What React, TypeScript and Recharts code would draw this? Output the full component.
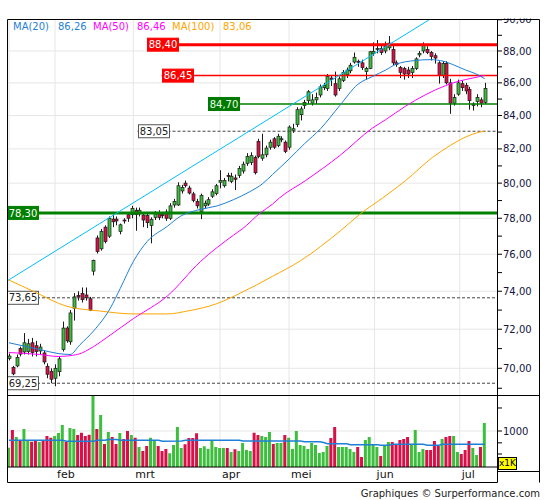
import React from 'react';
import { ComposedChart, Bar, Line, XAxis, YAxis, CartesianGrid, ReferenceLine, Cell } from 'recharts';

// ---------- data ----------
const openP = [70.50,70.05,70.12,71.00,70.83,70.85,71.30,71.15,70.88,70.78,
 70.10,69.85,69.50,69.83,70.95,72.06,71.35,73.10,73.78,73.88,
 73.80,73.60,75.08,76.90,76.30,77.50,77.00,77.95,77.95,77.26,
 77.90,78.20,78.20,78.45,78.25,78.18,78.15,77.60,78.05,78.30,
 78.20,78.35,78.00,78.75,78.75,79.55,80.00,79.72,79.38,78.95,
 78.38,78.70,78.80,79.25,79.40,80.05,79.85,80.45,80.10,80.30,
 80.45,80.70,81.15,81.20,81.50,82.45,81.45,81.65,82.10,82.60,
 82.20,82.55,82.40,82.10,83.10,83.45,84.05,84.60,84.90,84.75,
 84.95,85.25,85.70,85.65,86.30,85.95,85.65,86.15,86.50,86.75,
 87.30,87.35,87.25,86.70,86.90,87.85,88.10,88.15,88.00,88.20,
 88.10,87.25,86.95,86.90,86.80,86.65,86.90,87.75,88.00,88.10,
 87.90,87.70,87.25,86.45,87.20,86.00,84.75,85.30,85.95,85.85,
 85.60,84.60,84.85,84.95,84.80];
const highP = [70.75,70.12,70.70,71.10,71.80,71.50,71.55,71.40,71.25,70.90,
 70.25,70.00,70.20,70.60,72.40,72.15,73.00,73.90,74.00,74.20,
 74.20,73.70,75.70,77.04,77.40,77.60,78.10,78.20,78.10,77.70,
 78.00,78.30,78.70,78.60,78.60,78.30,78.30,78.05,78.40,78.45,
 78.35,78.50,78.85,79.10,80.05,79.90,80.15,79.85,79.50,79.10,
 79.40,79.00,79.20,79.65,79.95,80.75,80.30,80.60,80.60,80.50,
 81.00,81.25,81.75,81.80,81.60,82.60,82.90,82.20,82.55,82.70,
 82.90,82.75,82.50,83.40,83.50,84.50,84.55,84.95,85.55,85.30,
 85.40,85.90,86.00,86.55,86.45,86.70,86.40,86.80,86.95,87.25,
 87.90,87.45,87.45,87.00,88.00,88.55,88.70,88.40,88.60,88.95,
 88.40,87.40,87.05,87.00,87.00,87.05,87.60,88.00,88.55,88.30,
 88.00,87.85,87.35,87.35,87.35,86.25,85.30,86.20,86.15,86.00,
 85.75,84.80,85.30,85.10,86.00];
const lowP = [70.40,69.65,70.05,70.60,70.70,70.70,70.60,70.60,70.70,70.20,
 69.50,69.25,69.10,69.60,70.85,71.30,71.20,72.45,73.50,73.40,
 73.50,72.95,74.85,76.04,76.20,76.60,76.90,77.50,77.60,77.10,
 77.70,77.80,78.00,77.30,78.10,77.50,77.45,76.60,77.90,77.90,
 78.00,77.85,77.90,78.60,78.70,79.40,79.75,79.35,78.90,78.55,
 77.95,78.55,78.70,79.15,79.30,79.70,79.75,80.10,80.00,79.60,
 80.30,80.55,81.00,81.05,80.50,81.45,81.30,81.50,81.95,82.00,
 82.10,82.40,81.75,81.95,82.95,83.30,83.70,84.40,84.70,84.60,
 84.70,85.10,85.55,85.50,85.80,85.15,85.50,86.05,86.30,86.60,
 87.20,87.00,86.80,86.20,86.85,87.70,87.85,87.75,87.85,88.05,
 87.10,87.00,86.30,86.20,86.30,86.30,86.80,87.60,87.85,87.80,
 87.40,87.20,85.95,86.30,85.90,84.10,84.60,85.20,85.50,85.30,
 84.35,84.30,84.55,84.50,84.70];
const closeP = [70.62,69.72,70.55,70.72,71.30,71.25,70.80,70.85,71.08,70.32,
 69.70,69.45,70.00,70.48,72.06,71.40,72.85,73.70,73.70,73.55,
 73.65,73.00,75.67,76.15,77.25,76.70,78.00,77.80,77.85,77.63,
 77.85,78.00,78.55,78.20,78.45,77.90,77.75,77.94,78.25,78.05,
 78.17,78.00,78.70,78.95,79.85,79.75,79.85,79.43,79.00,78.70,
 79.30,78.85,79.05,79.50,79.85,80.15,80.15,80.38,80.40,80.22,
 80.85,81.10,81.55,81.60,80.60,81.55,81.65,82.05,82.40,82.10,
 82.75,82.60,81.85,83.30,83.20,84.35,84.40,84.80,85.45,84.95,
 85.10,85.75,85.85,86.40,86.20,85.25,86.25,86.65,86.80,87.10,
 87.60,87.30,86.95,86.90,87.95,87.97,88.15,87.90,88.30,88.50,
 87.25,87.15,86.65,86.55,86.55,86.90,87.50,87.85,88.35,87.90,
 87.65,87.55,86.45,87.20,86.00,84.75,85.10,86.00,85.70,85.50,
 84.90,84.70,85.10,84.75,85.65];
const volumeK = [605,1030,835,763,1062,763,724,740,718,763,
 860,817,860,942,1198,724,1094,1062,886,950,
 860,895,2900,1062,1620,676,970,835,676,942,
 786,1000,886,817,617,548,637,817,746,637,
 548,582,511,656,1128,600,670,810,810,933,
 600,633,582,740,618,600,600,600,531,575,
 548,697,565,548,950,886,860,835,970,676,
 697,697,886,817,582,1000,656,637,582,697,
 656,516,531,637,810,1128,618,618,618,582,
 531,618,457,763,835,656,618,471,637,718,
 718,676,763,786,835,676,1030,531,582,565,
 565,740,637,786,835,860,860,531,500,565,
 740,600,486,618,1272];

// moving averages: [bar index, value]
const ma20Pts = [[0,71.3],[8.1,70.95],[12.8,70.75],[15.9,70.7],[18.5,71.2],[22,71.9],[26.4,73.1],[29,74.15],[32.4,75.6],[36,76.7],[41.3,77.55],[44.6,78.1],[49.9,78.5],[54.3,78.7],[58.5,79.05],[62.7,79.5],[66,79.95],[68.7,80.5],[73,81.4],[77,82.3],[81.2,83.2],[86.2,84.6],[90.9,85.9],[94.8,86.4],[98.2,86.8],[100.8,87.15],[106,87.4],[109.7,87.45],[113.3,87.35],[115.7,87.14],[119,86.8],[121.7,86.56],[124,86.26]];
const ma50Pts = [[0,70.8],[8,70.7],[12.8,70.6],[17.8,70.7],[22,71.1],[26.4,71.7],[32.4,72.55],[41.3,73.75],[49.9,75.6],[58.5,77.05],[60.8,77.4],[65.5,78.3],[68.7,78.8],[70.5,79.15],[77.3,80.15],[86.2,81.6],[94.8,83.25],[98.2,83.75],[103.4,84.57],[108.6,85.27],[113.8,85.83],[117.2,86.1],[120.9,86.3],[124,86.46]];
const ma100Pts = [[0,74.6],[6.3,74.0],[15.1,73.2],[23.8,72.95],[32.4,72.8],[41.3,72.8],[46.5,72.95],[54.3,73.35],[60.3,73.9],[68.7,74.8],[76,75.65],[86.4,77.3],[91.6,78.25],[97.4,79.15],[103.4,80.15],[110.4,81.5],[115,82.2],[119,82.7],[122.7,83.0],[124,83.06]];
const volMaPts = [[0,755],[14,755],[15,735],[22,735],[23,755],[25,755],[26,775],[28,775],[29,755],[39,755],[40,735],[45,740],[46,755],[60,755],[61,740],[76,740],[77,725],[81,725],[82,705],[83,680],[88,680],[89,660],[96,660],[97,650],[99,650],[100,670],[108,670],[109,650],[112,650],[113,670],[124,670]];
const trendPts = [[-0.52,74.55],[109.5,90.0]];

const levelValues = [88.40, 86.45, 84.70, 83.05, 78.30, 73.65, 69.25];
const levelStartIdx = [36.0, 39.8, 52.0, 33.5, -0.52, -0.52, -0.52];

const monthTicks = [12, 32.4, 55, 73, 95.3, 117.5];
const monthLabels = ['feb', 'mrt', 'apr', 'mei', 'jun', 'jul'];
const gridIdx = [0, ...monthTicks];
const priceTicks = [69,70,71,72,73,74,75,76,77,78,79,80,81,82,83,84,85,86,87,88,89,90];
const priceGrid = [70,72,74,76,78,80,82,84,86,88];
const volTicks = [500, 700, 1000, 2000];
const legendItems = [
  { name: 'MA(20)', value: '86,26', color: '#1f7fd6' },
  { name: 'MA(50)', value: '86,46', color: '#ff00ff' },
  { name: 'MA(100)', value: '83,06', color: '#ffa500' },
];

// ---------- styling ----------
const FONT = '"DejaVu Sans", Verdana, sans-serif';
const GREEN = '#3cbf3c';
const RED = '#d90f48';
const X_DOMAIN: [number, number] = [-0.52, 127.2];
const P_DOMAIN: [number, number] = [68.64, 90.02];
const V_DOMAIN: [number, number] = [338, 2913];

const rows = openP.map((o, i) => ({
  i, o, h: highP[i], l: lowP[i], c: closeP[i], vol: volumeK[i], up: closeP[i] >= o,
}));
const toPts = (a: number[][]) => a.map(([i, v]) => ({ i, v }));

const fmt = (v: number) => v.toFixed(2).replace('.', ',');

const Candle = (props: any) => {
  const { x, y, width, height } = props;
  const d = props.payload || props;
  if (x == null || y == null || !isFinite(height)) return null;
  const lnH = Math.log(d.h), lnL = Math.log(d.l);
  const span = lnH - lnL || 1;
  const at = (v: number) => y + (height * (lnH - Math.log(v))) / span;
  const cx = Math.round(x + width / 2) + 0.5;
  const yo = at(d.o), yc = at(d.c);
  const top = Math.min(yo, yc);
  const bh = Math.max(Math.abs(yc - yo), 1);
  return (
    <g>
      <line x1={cx} x2={cx} y1={y} y2={y + height} stroke="#1a1a1a" strokeWidth={1} />
      <rect x={cx - 1.5} y={top} width={3} height={bh} fill={d.c >= d.o ? GREEN : RED} stroke="#1a1a1a" strokeWidth={0.7} />
    </g>
  );
};

const LEVEL_STYLE = [
  { stroke: '#ff0000', w: 3, dash: undefined, box: '#ff0000', border: '#ff0000', text: '#ffffff' },
  { stroke: '#ff0000', w: 1.5, dash: undefined, box: '#ff0000', border: '#ff0000', text: '#ffffff' },
  { stroke: '#008000', w: 1.5, dash: undefined, box: '#007a00', border: '#007a00', text: '#e8ffe8' },
  { stroke: '#444444', w: 1, dash: '3 2', box: '#ffffff', border: '#555555', text: '#222222' },
  { stroke: '#008000', w: 3, dash: undefined, box: '#008000', border: '#008000', text: '#ffffff' },
  { stroke: '#444444', w: 1, dash: '3 2', box: '#ffffff', border: '#555555', text: '#222222' },
  { stroke: '#444444', w: 1, dash: '3 2', box: '#ffffff', border: '#555555', text: '#222222' },
];

const makeBox = (text: string, st: any) => (props: any) => {
  const vb = props.viewBox || {};
  const bx = Math.round(vb.x ?? 0) + 0.5;
  const by = vb.y ?? 0;
  return (
    <g>
      <rect x={bx} y={by - 6.5} width={31} height={13} fill={st.box} stroke={st.border} strokeWidth={1} />
      <text x={bx + 15.5} y={by + 3.6} textAnchor="middle" fontSize={10} fontFamily={FONT} fill={st.text}>{text}</text>
    </g>
  );
};

const MonthTick = (props: any) => {
  const { x, y, payload } = props;
  const idx = monthTicks.indexOf(payload.value);
  return (
    <text x={x + 2} y={y + 11} fontSize={11} fontFamily={FONT} fill="#111" textAnchor="start">
      {monthLabels[idx]}
    </text>
  );
};

export default function App() {
  return (
    <div style={{ position: 'absolute', left: 0, top: 0, width: 545, height: 500, background: '#fff', overflow: 'hidden' }}>
      {/* price panel */}
      <div style={{ position: 'absolute', left: 0, top: 0 }}>
        <ComposedChart width={545} height={400} data={rows} margin={{ top: 19.5, right: 0, bottom: 4.5, left: 7 }}>
          <CartesianGrid stroke="#e6e6e6" horizontalValues={priceGrid} verticalValues={gridIdx} />
          <XAxis dataKey="i" type="number" domain={X_DOMAIN} allowDataOverflow hide ticks={monthTicks} />
          <YAxis
            orientation="right" width={48} type="number" scale="log" domain={P_DOMAIN} allowDataOverflow
            ticks={priceTicks} interval={0} axisLine={false} tickLine={{ stroke: '#000' }} tickSize={5} tickMargin={1}
            tickFormatter={(v: number) => (v % 2 === 0 ? fmt(v) : '')}
            tick={{ fontSize: 10, fontFamily: FONT, fill: '#14143c' }}
          />
          {levelValues.map((v, k) => (
            <ReferenceLine
              key={'lv' + k}
              segment={[{ x: levelStartIdx[k], y: v }, { x: X_DOMAIN[1], y: v }]}
              stroke={LEVEL_STYLE[k].stroke}
              strokeWidth={LEVEL_STYLE[k].w}
              strokeDasharray={LEVEL_STYLE[k].dash}
              ifOverflow="visible"
              label={makeBox(fmt(v), LEVEL_STYLE[k])}
            />
          ))}
          <ReferenceLine
            segment={[{ x: trendPts[0][0], y: trendPts[0][1] }, { x: trendPts[1][0], y: trendPts[1][1] }]}
            stroke="#00bfff" strokeWidth={1} ifOverflow="visible"
          />
          <Line data={toPts(ma100Pts)} dataKey="v" stroke="#ffa500" strokeWidth={1} dot={false} type="monotone" isAnimationActive={false} />
          <Line data={toPts(ma50Pts)} dataKey="v" stroke="#ff00ff" strokeWidth={1} dot={false} type="monotone" isAnimationActive={false} />
          <Line data={toPts(ma20Pts)} dataKey="v" stroke="#1f7fd6" strokeWidth={1} dot={false} type="monotone" isAnimationActive={false} />
          <Bar dataKey={(d: any) => [d.l, d.h]} barSize={4} shape={(p: any) => <Candle {...p} />} isAnimationActive={false} />
        </ComposedChart>
      </div>

      {/* volume panel */}
      <div style={{ position: 'absolute', left: 0, top: 390 }}>
        <ComposedChart width={545} height={110} data={rows} margin={{ top: 5.5, right: 0, bottom: 18, left: 7 }}>
          <CartesianGrid stroke="#e6e6e6" horizontalValues={[1000]} verticalValues={gridIdx} />
          <XAxis
            dataKey="i" type="number" domain={X_DOMAIN} allowDataOverflow ticks={monthTicks} interval={0}
            height={15} axisLine={{ stroke: '#000' }} tickLine={false} tickSize={0} tickMargin={0} tick={<MonthTick />}
          />
          <YAxis
            orientation="right" width={48} type="number" scale="log" domain={V_DOMAIN} allowDataOverflow
            ticks={volTicks} interval={0} axisLine={false} tickLine={{ stroke: '#000' }} tickSize={5} tickMargin={1}
            tickFormatter={(v: number) => (v === 1000 ? '1000' : '')}
            tick={{ fontSize: 10, fontFamily: FONT, fill: '#14143c' }}
          />
          <Bar dataKey="vol" barSize={3} isAnimationActive={false}>
            {rows.map((r) => (
              <Cell key={'c' + r.i} fill={r.up ? GREEN : RED} />
            ))}
          </Bar>
          <Line data={toPts(volMaPts)} dataKey="v" stroke="#1f7fd6" strokeWidth={1.5} dot={false} type="linear" isAnimationActive={false} />
        </ComposedChart>
      </div>

      {/* frame */}
      <svg width={545} height={500} style={{ position: 'absolute', left: 0, top: 0, pointerEvents: 'none' }}>
        <rect x={498} y={0} width={47} height={18.5} fill="#fff" />
        <path
          d="M7.5,19.5 H539.5 M7.5,19.5 V482.5 M539.5,19.5 V482.5 M7.5,395.5 H539.5 M497.5,19.5 V482.5 M7.5,482.5 H497.5 M497.5,471.5 H539.5"
          stroke="#000" strokeWidth={1} fill="none"
        />
      </svg>

      {/* legend */}
      {legendItems.map((it, k) => (
        <React.Fragment key={'lg' + k}>
          <span style={{ position: 'absolute', left: [13, 93, 172][k], top: 21, fontFamily: FONT, fontSize: 10, lineHeight: '12px', color: it.color, whiteSpace: 'nowrap' }}>{it.name}</span>
          <span style={{ position: 'absolute', left: [58, 137, 223][k], top: 21, fontFamily: FONT, fontSize: 10, lineHeight: '12px', color: it.color, whiteSpace: 'nowrap' }}>{it.value}</span>
        </React.Fragment>
      ))}

      {/* volume unit */}
      <div style={{ position: 'absolute', left: 498, top: 457, width: 19, height: 13, background: '#ffff00', border: '1px solid #000', boxSizing: 'border-box', fontFamily: FONT, fontSize: 9, lineHeight: '11px', textAlign: 'center', color: '#000' }}>x1K</div>

      {/* footer */}
      <div style={{ position: 'absolute', right: 5, top: 488, fontFamily: FONT, fontSize: 10, lineHeight: '12px', color: '#222', whiteSpace: 'nowrap' }}>Graphiques © Surperformance.com</div>
    </div>
  );
}
